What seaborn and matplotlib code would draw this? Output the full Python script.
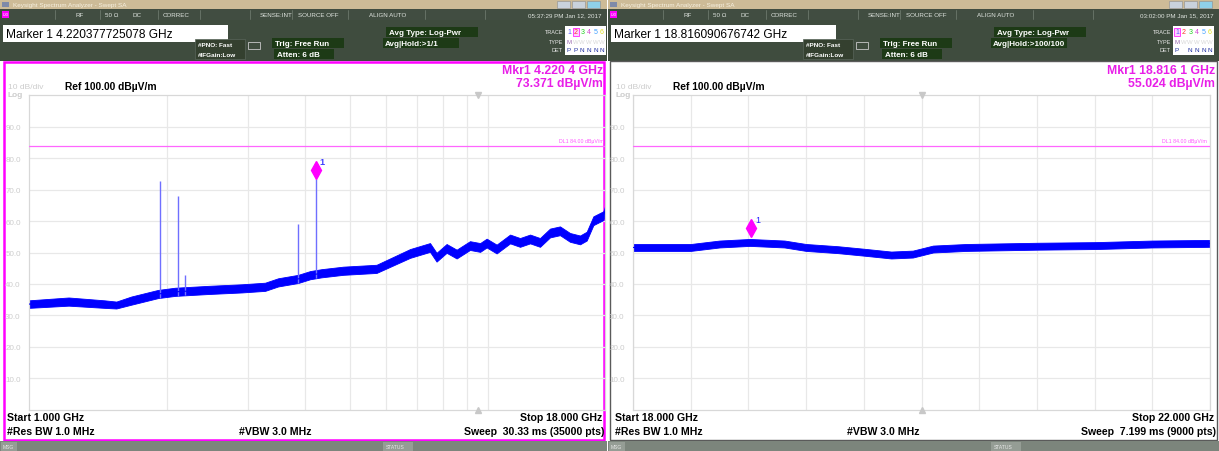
import numpy as np
import pandas as pd
import matplotlib
matplotlib.use("Agg")
import matplotlib.pyplot as plt
import seaborn as sns
from matplotlib.patches import Rectangle

# ------------------------------------------------------------------ data
# left sweep 1 - 18 GHz (log frequency axis), centre of noise band and half width (dB)
left_freq = [1.00, 1.22, 1.46, 1.55, 1.67, 1.91, 2.08, 2.46, 2.91, 3.27, 3.49, 3.86,
             4.10, 4.34, 4.84, 5.72, 6.77, 7.48, 7.73, 8.13, 8.55, 9.14, 9.62, 9.94,
             10.45, 11.18, 11.75, 12.36, 12.99, 13.66, 14.36, 15.10, 15.88, 16.42,
             16.98, 17.85, 18.00]
left_level = [33.6, 34.4, 33.6, 33.3, 34.7, 36.8, 37.5, 38.1, 38.6, 39.1, 40.5, 41.6,
              42.8, 43.4, 44.2, 44.8, 49.7, 51.6, 48.5, 51.3, 49.5, 52.2, 51.6, 53.0,
              51.1, 54.3, 53.2, 54.3, 53.2, 56.2, 56.9, 54.8, 54.0, 55.2,
              60.1, 61.7, 63.3]
left_spread = [1.2, 1.3, 1.2, 1.1, 1.3, 1.3, 1.3, 1.3, 1.3, 1.3, 1.3, 1.3,
               1.3, 1.3, 1.3, 1.3, 1.4, 1.4, 1.4, 1.4, 1.4, 1.4, 1.4, 1.4,
               1.4, 1.4, 1.4, 1.4, 1.4, 1.4, 1.4, 1.4, 1.4, 1.4,
               1.4, 1.4, 1.4]
spike_freq = [1.93, 2.11, 2.19, 3.86, 4.2204]
spike_level = [72.6, 68.1, 43.0, 59.1, 73.371]

# right sweep 18 - 22 GHz (linear frequency axis)
right_freq = [18.0, 18.4, 18.6, 18.81, 19.05, 19.2, 19.42, 19.6, 19.79, 19.94,
              20.08, 20.31, 20.81, 21.21, 21.6, 22.0]
right_level = [51.6, 51.6, 52.7, 53.2, 52.7, 51.6, 50.9, 50.1, 49.2, 49.5,
               51.1, 51.6, 52.0, 52.2, 52.7, 52.9]
right_spread = [1.1] * len(right_freq)

marker_left = (4.2204, 73.371)
marker_right = (18.8161, 55.024)
display_line = 84.0
y_ticks = [10, 20, 30, 40, 50, 60, 70, 80, 90]

# ------------------------------------------------------------------ style
W, H = 1219, 452
sns.set_theme(style="white")
plt.rcParams["font.family"] = ["Liberation Sans", "DejaVu Sans"]

BLUE = "#0000ff"
SPIKE = "#6f6fff"
MAG = "#ff00ff"
MAGTXT = "#e81ee8"
GRID = "#e8e8e8"
TICK = "#cccccc"

fig = plt.figure(figsize=(W / 100, H / 100), dpi=100)
fig.patch.set_facecolor("white")
bg = fig.add_axes([0, 0, 1, 1], zorder=0)
bg.set_xlim(0, W)
bg.set_ylim(H, 0)
bg.axis("off")


def rect(x, y, w, h, fc, ec="none", lw=0.0, z=1):
    bg.add_patch(Rectangle((x, y), w, h, facecolor=fc, edgecolor=ec, linewidth=lw, zorder=z))


def txt(x, y, s, size=5, color="white", weight="normal", ha="left", va="center", z=5):
    bg.text(x, y, s, fontsize=size, color=color, fontweight=weight, ha=ha, va=va, zorder=z)


def chrome(x0, w, active, marker_str, time_str, avg_hold, mkr_f, mkr_v,
           start, stop, sweep, trace_sel):
    # title bar
    rect(x0, 0.5, w, 9.5, "#cdbb97")
    rect(x0 + 2, 2.5, 7, 5.5, "#7f8aa8")
    txt(x0 + 13, 5.3, "Keysight Spectrum Analyzer - Swept SA", size=4.6, color="#f6f0e0")
    for i, c in enumerate(["#c9d2dc", "#c9d2dc", "#8fd0e8"]):
        rect(x0 + w - 50 + i * 15, 2.2, 13, 6.5, c, ec="#8d8d8d", lw=0.4)
    # status row
    rect(x0, 10, w, 10.5, "#414d41")
    for sx in [55, 100, 158, 200, 250, 292, 348, 425, 485]:
        bg.plot([x0 + sx, x0 + sx], [10.5, 20], color="#6b776b", lw=0.6, zorder=2)
    rect(x0 + 2, 11.5, 7, 7, MAG)
    txt(x0 + 5.5, 15.3, "LXI", size=3, color="white", ha="center")
    for sx, s in [(80, "RF"), (112, "50 Ω"), (137, "DC"), (176, "CORREC"),
                  (276, "SENSE:INT"), (318, "SOURCE OFF"), (388, "ALIGN AUTO")]:
        txt(x0 + sx, 15.3, s, size=4.5, color="#dfe4df", ha="center")
    txt(x0 + w - 5, 15.3, time_str, size=4.5, color="#dfe4df", ha="right")
    # settings panel
    rect(x0, 20.5, w, 41, "#3f4c3e")
    rect(x0 + 3, 26, 225, 17, "white")
    txt(x0 + 6, 34.8, marker_str, size=8.6, color="black")
    rect(x0 + 195, 40, 50, 20, "#34402f", ec="#59665a", lw=0.5)
    txt(x0 + 198, 45.8, "#PNO: Fast", size=4.6, color="white", weight="bold")
    txt(x0 + 198, 55.2, "#IFGain:Low", size=4.6, color="white", weight="bold")
    rect(x0 + 248, 43, 12, 7, "#3f4c3e", ec="#c8c8c8", lw=0.6)
    rect(x0 + 272, 39, 72, 10, "#1d3a16")
    txt(x0 + 275, 44.2, "Trig: Free Run", size=5.8, color="white", weight="bold")
    rect(x0 + 274, 50, 60, 10, "#1d3a16")
    txt(x0 + 277, 55.3, "Atten: 6 dB", size=5.8, color="white", weight="bold")
    rect(x0 + 386, 28, 92, 10, "#1d3a16")
    txt(x0 + 389, 33.2, "Avg Type: Log-Pwr", size=5.8, color="white", weight="bold")
    rect(x0 + 383, 39, 76, 10, "#1d3a16")
    txt(x0 + 385, 44.2, avg_hold, size=5.8, color="white", weight="bold")
    txt(x0 + 563, 32.8, "TRACE", size=4.0, color="#e8e8e8", ha="right")
    txt(x0 + 563, 42.5, "TYPE", size=4.0, color="#e8e8e8", ha="right")
    txt(x0 + 563, 51.0, "DET", size=4.0, color="#e8e8e8", ha="right")
    rect(x0 + 565, 27, 41, 29, "white")
    cols = ["#5b5bff", "#ff3030", "#20d020", "#d040d0", "#40a0ff", "#e0e020"]
    dets = ["P", "P", "N", "N", "N", "N"] if trace_sel == 2 else ["P", " ", "N", "N", "N", "N"]
    for i in range(6):
        cx = x0 + 569 + i * 6.6
        if i + 1 == trace_sel:
            rect(cx - 3, 28.5, 6.2, 8, "#ffd0ff", ec=MAG, lw=0.5)
        txt(cx, 32.8, str(i + 1), size=5, color=cols[i], ha="center")
        txt(cx, 42.5, "M" if i == 0 else "W", size=4.3,
            color="#9a6ab0" if i == 0 else "#d8d8d8", ha="center")
        txt(cx, 51.0, dets[i], size=4.6, color="#2030a0", ha="center")
    # plot area frame
    if active:
        rect(x0 + 4, 62.5, w - 7, 378, "white", ec=MAG, lw=1.8)
    else:
        rect(x0 + 2, 62, w - 4, 379, "white", ec="#5a5a5a", lw=1.0)
    txt(x0 + 8, 87.5, "10 dB/div", size=6, color=TICK)
    txt(x0 + 8, 95.5, "Log", size=6, color=TICK, weight="bold")
    txt(x0 + 65, 87.5, "Ref 100.00 dBµV/m", size=7.4, color="black", weight="bold")
    txt(x0 + w - 4, 71, mkr_f, size=8.8, color=MAGTXT, weight="bold", ha="right")
    txt(x0 + w - 4, 84, mkr_v, size=8.8, color=MAGTXT, weight="bold", ha="right")
    txt(x0 + 7, 418, start, size=7.6, color="black", weight="bold")
    txt(x0 + 7, 432, "#Res BW 1.0 MHz", size=7.6, color="black", weight="bold")
    txt(x0 + 275, 432, "#VBW 3.0 MHz", size=7.6, color="black", weight="bold", ha="center")
    txt(x0 + w - 5, 418, stop, size=7.6, color="black", weight="bold", ha="right")
    txt(x0 + w - 3, 432, sweep, size=7.6, color="black", weight="bold", ha="right")
    # message bar
    rect(x0, 441.5, w, 10.5, "#7c857c")
    rect(x0 + 1, 443, 16, 9, "#959d95")
    txt(x0 + 3, 447.5, "MSG", size=3.6, color="#e8e8e8")
    rect(x0 + 383, 443, 30, 9, "#959d95")
    txt(x0 + 386, 447.5, "STATUS", size=3.6, color="#e8e8e8")


chrome(0, 607, True, "Marker 1 4.220377725078 GHz", "05:37:29 PM Jan 12, 2017",
       "Avg|Hold:>1/1", "Mkr1 4.220 4 GHz", "73.371 dBµV/m",
       "Start 1.000 GHz", "Stop 18.000 GHz", "Sweep  30.33 ms (35000 pts)", 2)
chrome(608, 611, False, "Marker 1 18.816090676742 GHz", "03:02:00 PM Jan 15, 2017",
       "Avg|Hold:>100/100", "Mkr1 18.816 1 GHz", "55.024 dBµV/m",
       "Start 18.000 GHz", "Stop 22.000 GHz", "Sweep  7.199 ms (9000 pts)", 1)

# ------------------------------------------------------------------ plot axes
Y_TOP, Y_BOT = 96.2, 410.8


def make_ax(xl, xr):
    ax = fig.add_axes([xl / W, (H - Y_BOT) / H, (xr - xl) / W, (Y_BOT - Y_TOP) / H], zorder=2)
    ax.set_facecolor("none")
    ax.set_ylim(0, 100)
    ax.set_yticks(y_ticks)
    ax.set_yticklabels([f"{v:.1f}" for v in y_ticks])
    ax.tick_params(axis="y", length=0, pad=6, labelsize=5.8, labelcolor=TICK)
    ax.tick_params(axis="x", length=0, labelbottom=False)
    ax.grid(True, color=GRID, lw=0.9)
    for sp in ax.spines.values():
        sp.set_color("#d8d8d8")
        sp.set_linewidth(0.9)
    return ax


def band_frame(freq, level, spread):
    f = np.asarray(freq, float)
    lv = np.asarray(level, float)
    sp = np.asarray(spread, float)
    return pd.DataFrame({"f": np.concatenate([f, f]),
                         "v": np.concatenate([lv - sp, lv + sp])})


# left
axL = make_ax(29, 605)
axL.set_xscale("log")
axL.set_xlim(1, 18)
axL.xaxis.set_minor_locator(matplotlib.ticker.NullLocator())
axL.set_xticks([2, 3, 4, 5, 6, 7, 8, 9, 10])
axL.set_xticklabels([""] * 9)
dfL = band_frame(left_freq, left_level, left_spread)
lowL = np.interp(spike_freq, left_freq, np.array(left_level) - np.array(left_spread))
axL.vlines(spike_freq, lowL, spike_level, color=SPIKE, lw=1.0, zorder=2)
sns.lineplot(data=dfL, x="f", y="v", ax=axL, color=BLUE, lw=0.8,
             estimator="mean", errorbar=("pi", 100), err_kws=dict(alpha=1.0, lw=0.6), zorder=3)
axL.axhline(display_line, color="#ff66ff", lw=0.9, zorder=3)
axL.text(17.9, display_line + 0.8, "DL1 84.00 dBμV/m", fontsize=3.8, color="#ff55ff",
         ha="right", va="bottom")
axL.plot([marker_left[0]], [marker_left[1] + 2.8], marker="d", ms=9, color=MAG,
         mec=MAG, zorder=5)
axL.text(marker_left[0] * 1.02, marker_left[1] + 4.2, "1", fontsize=6.5, color="#4040ff",
         fontweight="bold", ha="left", va="bottom")
axL.plot([9.5], [100], marker="v", ms=4, color="#c8c8c8", clip_on=False, zorder=4)
axL.plot([9.5], [0], marker="^", ms=4, color="#c8c8c8", clip_on=False, zorder=4)
axL.set_xlabel("")
axL.set_ylabel("")

# right
axR = make_ax(633, 1210)
axR.set_xlim(18, 22)
axR.set_xticks(np.linspace(18, 22, 11))
dfR = band_frame(right_freq, right_level, right_spread)
sns.lineplot(data=dfR, x="f", y="v", ax=axR, color=BLUE, lw=0.8,
             estimator="mean", errorbar=("pi", 100), err_kws=dict(alpha=1.0, lw=0.6), zorder=3)
axR.axhline(display_line, color="#ff66ff", lw=0.9, zorder=3)
axR.text(21.98, display_line + 0.8, "DL1 84.00 dBμV/m", fontsize=3.8, color="#ff55ff",
         ha="right", va="bottom")
axR.plot([marker_right[0]], [marker_right[1] + 2.7], marker="d", ms=9, color=MAG,
         mec=MAG, zorder=5)
axR.text(marker_right[0] + 0.03, marker_right[1] + 4.0, "1", fontsize=6.5, color="#2020ff",
         ha="left", va="bottom")
axR.plot([20.0], [100], marker="v", ms=4, color="#c8c8c8", clip_on=False, zorder=4)
axR.plot([20.0], [0], marker="^", ms=4, color="#c8c8c8", clip_on=False, zorder=4)
axR.set_xlabel("")
axR.set_ylabel("")

fig.savefig("out.png", dpi=100)
